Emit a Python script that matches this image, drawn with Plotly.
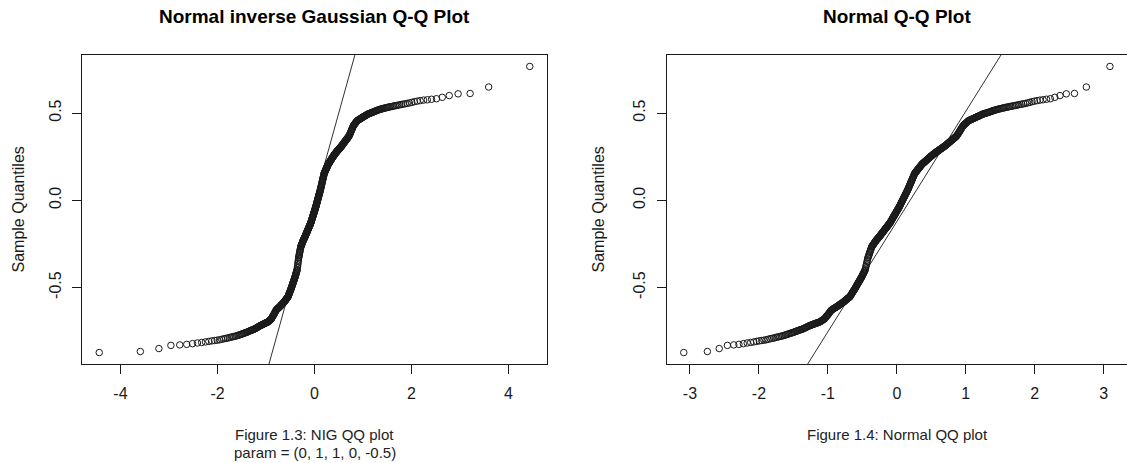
import numpy as np
import plotly.graph_objects as go
from statistics import NormalDist

# ---------------- data ----------------
# sorted sample values (n = 500), shared by both Q-Q plots
sample_values = [
    -0.873, -0.867, -0.850, -0.832, -0.829, -0.826, -0.822, -0.818, -0.815, -0.812,
    -0.809, -0.806, -0.804, -0.802, -0.800, -0.797, -0.794, -0.792, -0.790, -0.787,
    -0.785, -0.783, -0.781, -0.779, -0.777, -0.775, -0.772, -0.770, -0.768, -0.765,
    -0.763, -0.761, -0.759, -0.757, -0.755, -0.752, -0.750, -0.748, -0.746, -0.744,
    -0.742, -0.741, -0.739, -0.737, -0.735, -0.732, -0.730, -0.728, -0.725, -0.723,
    -0.721, -0.719, -0.717, -0.716, -0.714, -0.712, -0.711, -0.709, -0.708, -0.706,
    -0.705, -0.703, -0.702, -0.701, -0.700, -0.698, -0.696, -0.694, -0.691, -0.689,
    -0.687, -0.684, -0.682, -0.680, -0.676, -0.671, -0.667, -0.663, -0.659, -0.656,
    -0.651, -0.647, -0.642, -0.638, -0.634, -0.630, -0.628, -0.626, -0.624, -0.622,
    -0.620, -0.618, -0.616, -0.615, -0.613, -0.611, -0.609, -0.607, -0.605, -0.603,
    -0.601, -0.599, -0.597, -0.595, -0.593, -0.591, -0.590, -0.588, -0.586, -0.584,
    -0.582, -0.580, -0.577, -0.575, -0.573, -0.571, -0.569, -0.567, -0.564, -0.562,
    -0.560, -0.558, -0.556, -0.554, -0.551, -0.547, -0.543, -0.539, -0.534, -0.530,
    -0.527, -0.523, -0.519, -0.515, -0.511, -0.508, -0.504, -0.500, -0.496, -0.491,
    -0.487, -0.483, -0.479, -0.475, -0.471, -0.467, -0.464, -0.460, -0.455, -0.451,
    -0.447, -0.444, -0.440, -0.435, -0.430, -0.426, -0.421, -0.417, -0.413, -0.408,
    -0.403, -0.399, -0.389, -0.380, -0.370, -0.361, -0.351, -0.342, -0.331, -0.326,
    -0.319, -0.313, -0.307, -0.300, -0.294, -0.287, -0.281, -0.275, -0.268, -0.265,
    -0.262, -0.259, -0.256, -0.253, -0.249, -0.247, -0.244, -0.241, -0.237, -0.235,
    -0.232, -0.229, -0.226, -0.224, -0.222, -0.219, -0.217, -0.214, -0.212, -0.210,
    -0.207, -0.205, -0.202, -0.199, -0.196, -0.194, -0.191, -0.189, -0.186, -0.183,
    -0.181, -0.178, -0.176, -0.173, -0.170, -0.167, -0.165, -0.162, -0.160, -0.157,
    -0.155, -0.152, -0.150, -0.147, -0.144, -0.142, -0.139, -0.137, -0.134, -0.132,
    -0.129, -0.125, -0.122, -0.118, -0.115, -0.112, -0.108, -0.105, -0.101, -0.098,
    -0.094, -0.091, -0.088, -0.084, -0.081, -0.077, -0.074, -0.071, -0.067, -0.064,
    -0.060, -0.057, -0.053, -0.050, -0.047, -0.043, -0.040, -0.036, -0.032, -0.029,
    -0.024, -0.020, -0.016, -0.012, -0.008, -0.004, 0.000, 0.004, 0.008, 0.012,
    0.016, 0.020, 0.024, 0.028, 0.032, 0.036, 0.040, 0.044, 0.048, 0.052,
    0.056, 0.060, 0.065, 0.070, 0.074, 0.079, 0.084, 0.089, 0.093, 0.098,
    0.103, 0.108, 0.112, 0.118, 0.122, 0.127, 0.132, 0.136, 0.141, 0.146,
    0.151, 0.155, 0.158, 0.160, 0.163, 0.165, 0.168, 0.170, 0.173, 0.176,
    0.178, 0.181, 0.184, 0.186, 0.189, 0.191, 0.194, 0.197, 0.199, 0.202,
    0.205, 0.207, 0.209, 0.211, 0.213, 0.215, 0.217, 0.218, 0.220, 0.222,
    0.224, 0.226, 0.228, 0.230, 0.232, 0.234, 0.236, 0.238, 0.240, 0.242,
    0.244, 0.246, 0.248, 0.250, 0.252, 0.253, 0.255, 0.257, 0.259, 0.261,
    0.263, 0.265, 0.267, 0.268, 0.270, 0.272, 0.273, 0.275, 0.277, 0.278,
    0.280, 0.282, 0.283, 0.285, 0.287, 0.288, 0.290, 0.292, 0.294, 0.295,
    0.297, 0.299, 0.300, 0.302, 0.304, 0.306, 0.308, 0.309, 0.311, 0.313,
    0.315, 0.317, 0.320, 0.322, 0.324, 0.326, 0.328, 0.331, 0.333, 0.335,
    0.337, 0.340, 0.342, 0.344, 0.347, 0.349, 0.351, 0.354, 0.356, 0.358,
    0.361, 0.363, 0.366, 0.368, 0.373, 0.377, 0.382, 0.386, 0.391, 0.396,
    0.400, 0.406, 0.411, 0.415, 0.421, 0.426, 0.429, 0.432, 0.435, 0.438,
    0.441, 0.444, 0.447, 0.450, 0.453, 0.456, 0.458, 0.459, 0.461, 0.462,
    0.464, 0.466, 0.467, 0.469, 0.471, 0.472, 0.474, 0.476, 0.478, 0.480,
    0.481, 0.483, 0.485, 0.487, 0.489, 0.491, 0.493, 0.495, 0.496, 0.497,
    0.499, 0.500, 0.502, 0.503, 0.505, 0.506, 0.508, 0.510, 0.512, 0.513,
    0.515, 0.517, 0.519, 0.520, 0.522, 0.523, 0.525, 0.526, 0.528, 0.529,
    0.531, 0.532, 0.534, 0.535, 0.537, 0.538, 0.540, 0.542, 0.543, 0.545,
    0.547, 0.549, 0.551, 0.553, 0.555, 0.558, 0.561, 0.565, 0.568, 0.571,
    0.574, 0.576, 0.579, 0.582, 0.590, 0.600, 0.610, 0.612, 0.649, 0.767,
]

# NIG parameters (mu, delta, alpha, beta, lambda)
nig_param = [0, 1, 1, 0, -0.5]

left_title = "Normal inverse Gaussian Q-Q Plot"
right_title = "Normal Q-Q Plot"
y_label = "Sample Quantiles"
left_caption = ["Figure 1.3: NIG QQ plot", "param = (0, 1, 1, 0, -0.5)"]
right_caption = ["Figure 1.4: Normal QQ plot"]

left_xticks = [-4, -2, 0, 2, 4]
left_xticktext = ["-4", "-2", "0", "2", "4"]
right_xticks = [-3, -2, -1, 0, 1, 2, 3]
right_xticktext = ["-3", "-2", "-1", "0", "1", "2", "3"]
y_ticks = [-0.5, 0.0, 0.5]
y_ticktext = ["-0.5", "0.0", "0.5"]


# ---------------- theoretical quantiles ----------------
def nig_quantile(p, mu, delta, alpha, beta):
    gamma = np.sqrt(alpha ** 2 - beta ** 2)
    x = np.linspace(mu - 30 * delta, mu + 30 * delta, 60001)
    r = np.sqrt(delta ** 2 + (x - mu) ** 2)
    t = np.linspace(0, 8, 1601)
    ch = np.cosh(t)
    k1 = np.empty_like(r)
    step = 2000
    for s in range(0, len(r), step):
        z = alpha * r[s:s + step, None]
        k1[s:s + step] = np.trapezoid(np.exp(-z * ch) * ch, t, axis=1)
    pdf = alpha * delta * k1 / (np.pi * r) * np.exp(delta * gamma + beta * (x - mu))
    cdf = np.concatenate([[0.0], np.cumsum((pdf[1:] + pdf[:-1]) / 2 * np.diff(x))])
    cdf /= cdf[-1]
    return np.interp(p, cdf, x)


y = np.array(sample_values)
n = len(y)
probs = (np.arange(1, n + 1) - 0.5) / n
nd = NormalDist()
normal_q = np.array([nd.inv_cdf(p) for p in probs])
mu, delta, alpha, beta, lam = nig_param
nig_q = nig_quantile(probs, mu, delta, alpha, beta)


def ext_range(v):
    lo, hi = float(np.min(v)), float(np.max(v))
    d = 0.04 * (hi - lo)
    return [lo - d, hi + d]


y_range = ext_range(y)
left_xr = ext_range(nig_q)
right_xr = ext_range(normal_q)

# qqline for the normal plot (through quartiles)
y25, y75 = np.quantile(y, [0.25, 0.75])
z25, z75 = nd.inv_cdf(0.25), nd.inv_cdf(0.75)
slope = (y75 - y25) / (z75 - z25)
inter = y25 - slope * z25

# ---------------- figure ----------------
W, H = 1127, 463
FONT = "Liberation Sans, Arial, sans-serif"
INK = "#1a1a1a"


def px_x(p):
    return p / W


def px_y(p):
    return 1 - p / H


left_dom = [px_x(82), px_x(547)]
right_dom = [px_x(666.7), 1.0]
y_dom = [px_y(364), px_y(55)]

fig = go.Figure()

marker = dict(symbol="circle-open", size=6.5, color=INK, line=dict(width=1, color=INK))

fig.add_trace(go.Scatter(x=nig_q, y=y, mode="markers", marker=marker,
                         xaxis="x", yaxis="y", showlegend=False, hoverinfo="skip"))
fig.add_trace(go.Scatter(x=left_xr, y=left_xr, mode="lines",
                         line=dict(color=INK, width=0.9),
                         xaxis="x", yaxis="y", showlegend=False, hoverinfo="skip"))
fig.add_trace(go.Scatter(x=normal_q, y=y, mode="markers", marker=marker,
                         xaxis="x2", yaxis="y2", showlegend=False, hoverinfo="skip"))
fig.add_trace(go.Scatter(x=right_xr, y=[inter + slope * v for v in right_xr], mode="lines",
                         line=dict(color=INK, width=0.9),
                         xaxis="x2", yaxis="y2", showlegend=False, hoverinfo="skip"))

tickfont = dict(family=FONT, size=16, color=INK)
common_x = dict(showgrid=False, zeroline=False, showline=True, mirror=True,
                linecolor=INK, linewidth=1, ticks="outside", ticklen=9,
                tickcolor=INK, tickwidth=1, tickfont=tickfont, automargin=False,
                ticklabelstandoff=6)
common_y = dict(showgrid=False, zeroline=False, showline=True, mirror=True,
                linecolor=INK, linewidth=1, ticks="outside", ticklen=9,
                tickcolor=INK, tickwidth=1, tickfont=tickfont, automargin=False,
                tickangle=-90, tickvals=y_ticks, ticktext=y_ticktext,
                range=y_range, domain=y_dom, ticklabelstandoff=5)

fig.update_layout(
    width=W, height=H, autosize=False,
    margin=dict(l=0, r=0, t=0, b=0),
    paper_bgcolor="white", plot_bgcolor="white",
    xaxis=dict(common_x, domain=left_dom, range=left_xr, tickvals=left_xticks,
               ticktext=left_xticktext, anchor="y"),
    yaxis=dict(common_y, anchor="x"),
    xaxis2=dict(common_x, domain=right_dom, range=right_xr, tickvals=right_xticks,
                ticktext=right_xticktext, anchor="y2"),
    yaxis2=dict(common_y, anchor="x2"),
    font=dict(family=FONT, color=INK),
    hovermode=False,
)

annotations = []
# titles
for txt, cx in [(left_title, 314.5), (right_title, 897)]:
    annotations.append(dict(text="<b>%s</b>" % txt, x=px_x(cx), y=px_y(17),
                            xref="paper", yref="paper", showarrow=False,
                            xanchor="center", yanchor="middle",
                            font=dict(family=FONT, size=19, color="black")))
# y-axis labels
for cx in [18, 598]:
    annotations.append(dict(text=y_label, x=px_x(cx), y=px_y(209.5), textangle=-90,
                            xref="paper", yref="paper", showarrow=False,
                            xanchor="center", yanchor="middle",
                            font=dict(family=FONT, size=16, color=INK)))
# captions
for i, line in enumerate(left_caption):
    annotations.append(dict(text=line, x=px_x(314.5), y=px_y(434 + 18 * i),
                            xref="paper", yref="paper", showarrow=False,
                            xanchor="center", yanchor="middle",
                            font=dict(family=FONT, size=15, color="#222222")))
for i, line in enumerate(right_caption):
    annotations.append(dict(text=line, x=px_x(897), y=px_y(434 + 18 * i),
                            xref="paper", yref="paper", showarrow=False,
                            xanchor="center", yanchor="middle",
                            font=dict(family=FONT, size=15, color="#222222")))
fig.update_layout(annotations=annotations)

fig.write_html(
    "out.html",
    config={"displayModeBar": False, "staticPlot": True},
    post_script="document.body.style.margin='0';document.body.style.overflow='hidden';",
)
